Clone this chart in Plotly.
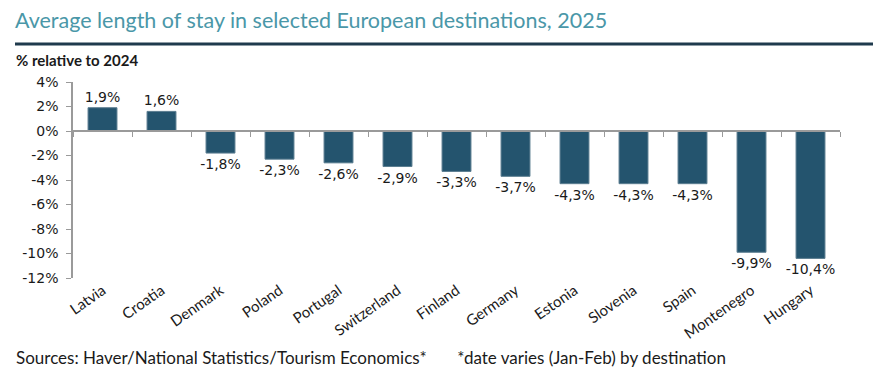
import plotly.graph_objects as go

countries = ["Latvia", "Croatia", "Denmark", "Poland", "Portugal", "Switzerland", "Finland",
             "Germany", "Estonia", "Slovenia", "Spain", "Montenegro", "Hungary"]
values = [1.9, 1.6, -1.8, -2.3, -2.6, -2.9, -3.3, -3.7, -4.3, -4.3, -4.3, -9.9, -10.4]
y_ticks = [4, 2, 0, -2, -4, -6, -8, -10, -12]
y_ticklabels = [f"{v}%" for v in y_ticks]

labels = [f"{v:.1f}%".replace(".", ",") for v in values]
ymin, ymax = -12, 4

OFF = 8  # page body margin
W, H = 886, 382
L, T = 73 - OFF, 82 - OFF
PW, PH = 767, 196
R = W - L - PW
B = H - T - PH

def px(xpage):
    return (xpage - OFF - L) / PW

def py(ypage):
    return (T + PH - (ypage - OFF)) / PH

fig = go.Figure()
fig.add_trace(go.Bar(
    x=countries, y=values, text=labels, textposition="outside", constraintext="none",
    textfont=dict(family="DejaVu Sans", size=14, color="#1a1a1a"),
    marker=dict(color="#24546e", line=dict(color="#5b7d90", width=1)),
    cliponaxis=False, xaxis="x", yaxis="y",
))
# transparent trace carrying the zero-line axis with boundary ticks
fig.add_trace(go.Bar(x=countries, y=[0]*len(countries), xaxis="x2", yaxis="y",
                     showlegend=False, hoverinfo="skip", marker=dict(color="rgba(0,0,0,0)")))

zero_pos = (0 - ymin) / (ymax - ymin)

fig.update_layout(
    width=W, height=H,
    margin=dict(l=L, r=R, t=T, b=B),
    paper_bgcolor="white", plot_bgcolor="white",
    showlegend=False, bargap=0.51,
    xaxis=dict(type="category", showline=False, ticks="", showgrid=False, automargin=False,
               tickangle=-35, tickfont=dict(family="Lato", size=15, color="#1a1a1a")),
    xaxis2=dict(type="category", overlaying="x", matches="x", anchor="free", position=zero_pos,
                side="bottom", showline=True, linecolor="#9a9a9a", linewidth=1.5,
                ticks="outside", tickson="boundaries", ticklen=5, tickcolor="#9a9a9a",
                showticklabels=False, showgrid=False, automargin=False),
    yaxis=dict(range=[ymin, ymax], tickvals=y_ticks, ticktext=y_ticklabels, automargin=False,
               showline=True, linecolor="#9a9a9a", linewidth=1.5, ticks="outside",
               ticklen=5, tickcolor="#9a9a9a", showgrid=False, zeroline=False,
               ticklabelstandoff=5,
               tickfont=dict(family="DejaVu Sans", size=14, color="#1a1a1a")),
    shapes=[dict(type="line", xref="paper", yref="paper", x0=px(15), x1=px(873),
                 y0=py(44), y1=py(44), line=dict(color="#1f3a4d", width=3))],
    annotations=[
        dict(text="Average length of stay in selected European destinations, 2025",
             xref="paper", yref="paper", x=px(13), y=py(5), xanchor="left", yanchor="top",
             showarrow=False, font=dict(family="Lato", size=21.5, color="#4a97a8")),
        dict(text="<b>% relative to 2024</b>", xref="paper", yref="paper", x=px(14), y=py(60),
             xanchor="left", yanchor="middle", showarrow=False,
             font=dict(family="Lato", size=15, color="#1a1a1a")),
        dict(text="Sources: Haver/National Statistics/Tourism Economics*" + "&nbsp;"*7 +
                  "*date varies (Jan-Feb) by destination",
             xref="paper", yref="paper", x=px(14), y=py(357), xanchor="left", yanchor="middle",
             showarrow=False, font=dict(family="Lato", size=17, color="#1a1a1a")),
    ],
)

fig.write_html("out.html")
